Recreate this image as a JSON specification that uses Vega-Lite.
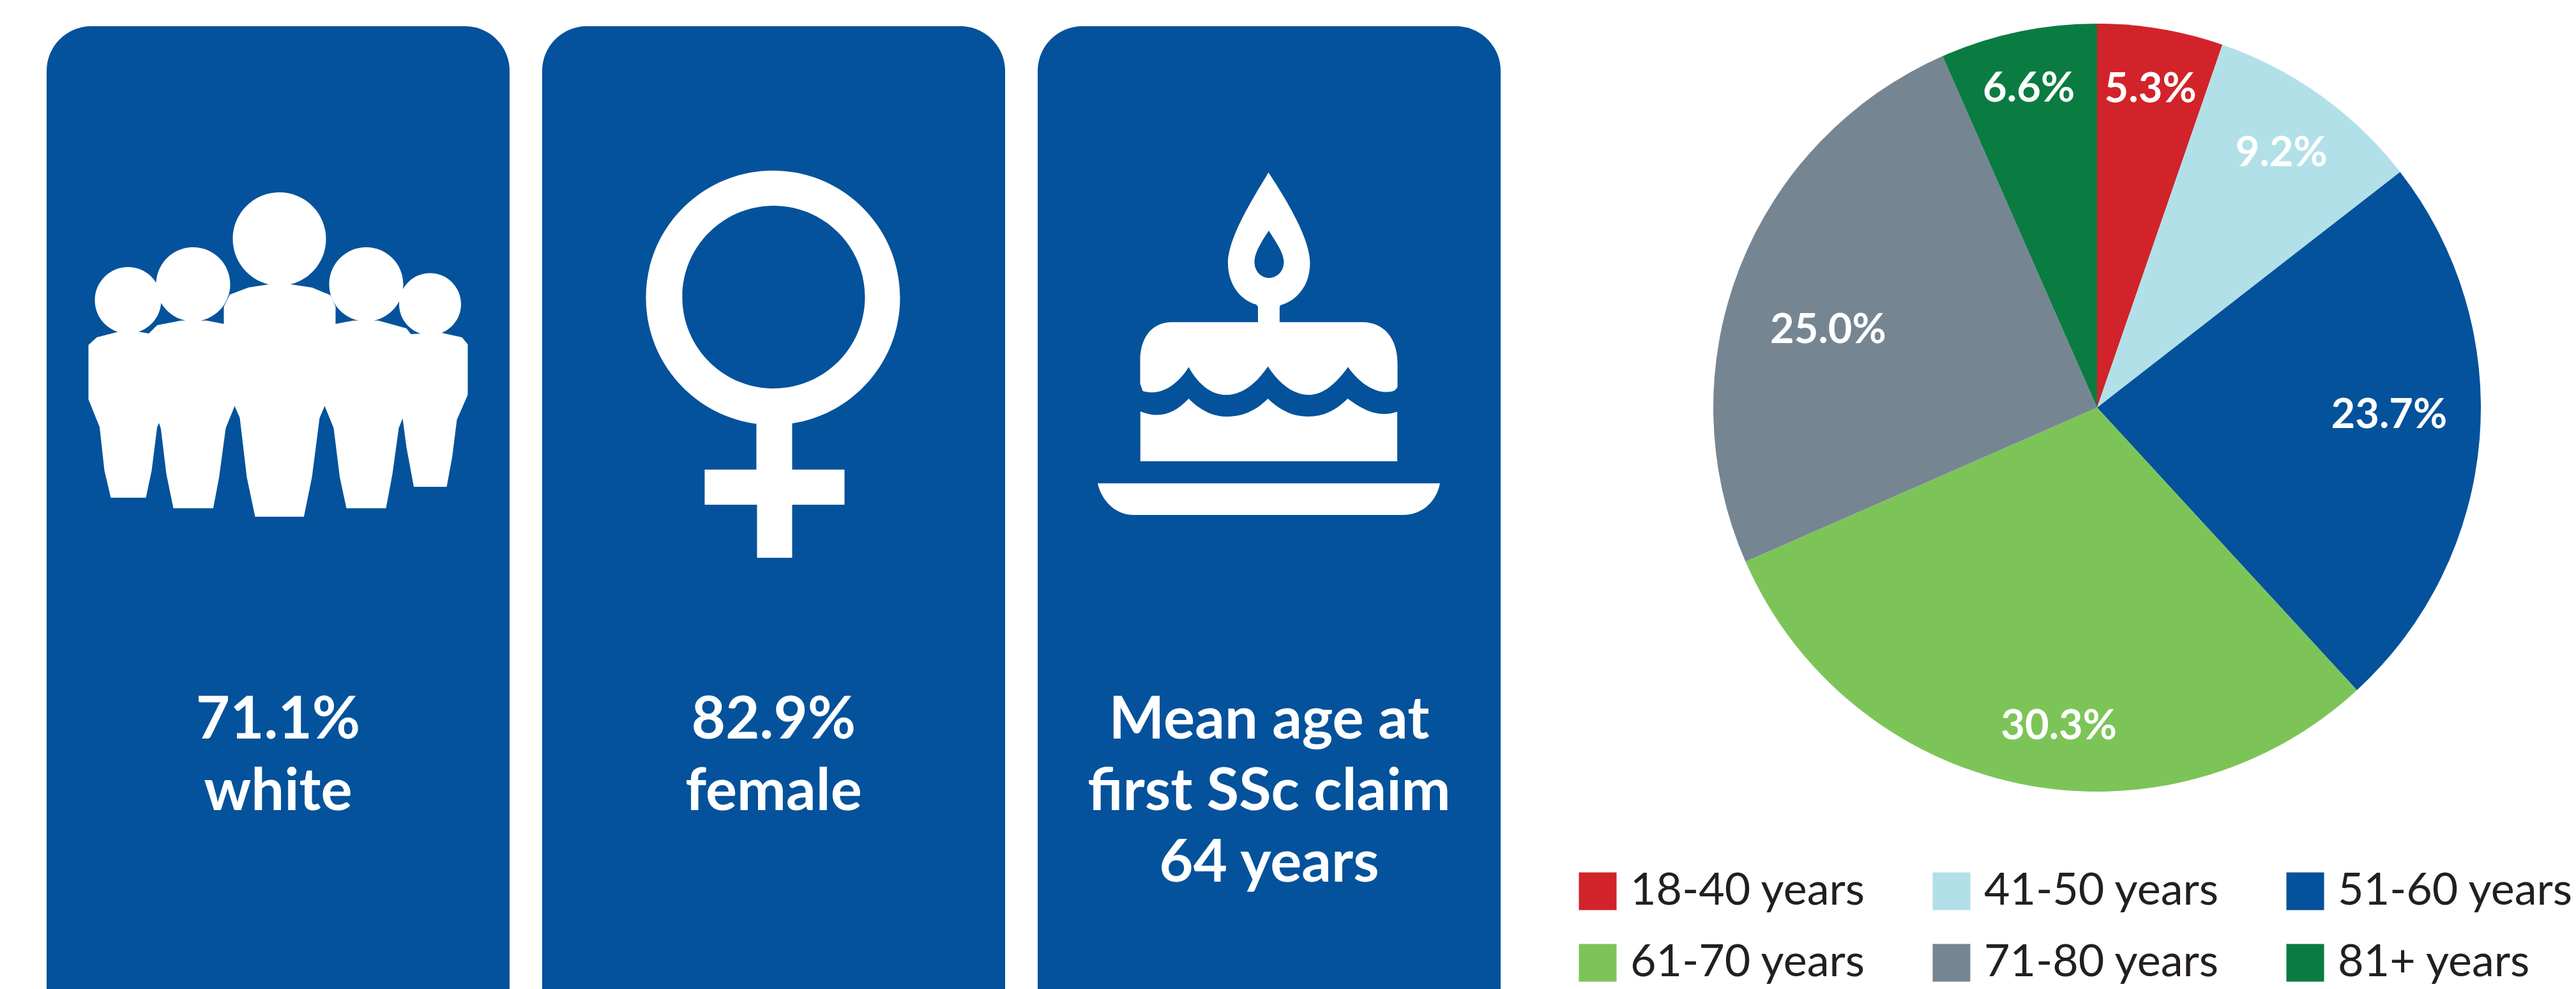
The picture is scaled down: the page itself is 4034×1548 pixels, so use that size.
{"$schema":"https://vega.github.io/schema/vega-lite/v6.json","padding":0,"background":"white","bounds":"flush","spacing":0,"config":{"view":{"stroke":null},"font":"Lato"},
"datasets":{"panels":[{"panel":"white"},{"panel":"female"},{"panel":"age"}],
"lines":[{"panel":"white","line":1,"text":"71.1%"},{"panel":"white","line":2,"text":"white"},{"panel":"female","line":1,"text":"82.9%"},{"panel":"female","line":2,"text":"female"},{"panel":"age","line":1,"text":"Mean age at"},{"panel":"age","line":2,"text":"first SSc claim"},{"panel":"age","line":3,"text":"64 years"}],
"ages":[{"age":"18-40 years","pct":5.3,"ord":1,"label":"5.3%"},{"age":"41-50 years","pct":9.2,"ord":2,"label":"9.2%"},{"age":"51-60 years","pct":23.7,"ord":3,"label":"23.7%"},{"age":"61-70 years","pct":30.3,"ord":4,"label":"30.3%"},{"age":"71-80 years","pct":25.0,"ord":5,"label":"25.0%"},{"age":"81+ years","pct":6.6,"ord":6,"label":"6.6%"}]},
"hconcat":[
{"width":2534,"height":1548,"resolve":{"scale":{"y":"independent"}},
"encoding":{"x":{"field":"panel","type":"nominal","axis":null,"sort":null,"scale":{"type":"band","domain":["white","female","age"],"range":[73,2350],"paddingInner":0.0657,"paddingOuter":0}}},
"layer":[
{"data":{"name":"panels"},"mark":{"type":"rect","fill":"#03529B","cornerRadius":70,"clip":true},"encoding":{"y":{"datum":41,"type":"quantitative","axis":null,"scale":{"domain":[0,1548],"range":[0,1548],"nice":false,"zero":false}},"y2":{"datum":1800}}},
{"data":{"values":[{"panel":"white"}]},"mark":{"type":"point","filled":true,"fill":"white","stroke":null,"strokeWidth":0,"opacity":1,"size":4,"shape":"M -251 19.5 L -284 28 L -297 40 L -297 125 L -279.5 168.5 L -272 236.5 L -262 279 L -207 279 L -198 236.5 L -189.4 168.5 L -186.5 162 L -183.6 171 L -175 242 L -164 295.6 L -101.6 295.6 L -92.4 247 L -82 170 L -68 135.6 L -60 154 L -49 247 L -36 308.7 L 40.4 308.7 L 53 247 L 65 154 L 73 135.6 L 87 170 L 96.6 247 L 107 295.6 L 169 295.6 L 179 242 L 189 170 L 195 155 L 201 200 L 212.5 262 L 264 262 L 272.6 215.6 L 280 157 L 297 118 L 297 39 L 288 28 L 254 20.5 L 208 23 L 201 14 L 157 1.7 L 118 1.7 L 90 7 L 90 -20 L 82 -38 L 53 -50 L 17.6 -55.3 L -12.5 -55.3 L -46.4 -50 L -75.5 -39 L -85 -20 L -85 7 L -112 1.7 L -152 1.7 L -189.4 9 L -202.5 22 L -217 19.5 Z M -71 -126 A 73 73 0 1 0 75 -126 A 73 73 0 1 0 -71 -126 Z M -191 -55 A 58 58 0 1 0 -75 -55 A 58 58 0 1 0 -191 -55 Z M 80 -55 A 58 58 0 1 0 196 -55 A 58 58 0 1 0 80 -55 Z M -287 -30 A 52 52 0 1 0 -183 -30 A 52 52 0 1 0 -287 -30 Z M 189.5 -24 A 48.5 48.5 0 1 0 286.5 -24 A 48.5 48.5 0 1 0 189.5 -24 Z"},"encoding":{"y":{"datum":500,"type":"quantitative","axis":null,"scale":{"domain":[0,1548],"range":[0,1548],"nice":false,"zero":false}}}},
{"data":{"values":[{"panel":"female"}]},"mark":{"type":"point","filled":true,"fill":"white","stroke":null,"strokeWidth":0,"opacity":1,"size":4,"shape":"M -200 -34 A 199 199 0 1 0 198 -34 A 199 199 0 1 0 -200 -34 Z M -143 -35 A 143 143 0 1 1 143 -35 A 143 143 0 1 1 -143 -35 Z M -27 154 L -27 235 L -108 235 L -108 290 L -26 290 L -26 373 L 29 373 L 29 290 L 111 290 L 111 235 L 29 235 L 29 154 Z"},"encoding":{"y":{"datum":500,"type":"quantitative","axis":null,"scale":{"domain":[0,1548],"range":[0,1548],"nice":false,"zero":false}}}},
{"data":{"values":[{"panel":"age"}]},"mark":{"type":"point","filled":true,"fill":"white","stroke":null,"strokeWidth":0,"opacity":1,"size":4,"shape":"M -1 -230 C 20 -198 64 -130 64 -88 C 64 -55 45 -30 18 -22.4 L 16.4 -19.8 L 16.4 4.3 L 146 4.3 C 180 4.3 201 30 201 69 L 201 106 L 197 111 C 175 120 145 105 123.5 74.4 C 105 100 85 118 61.5 118 C 38 118 15 100 -2 73.4 C -20 100 -42 118 -67 118 C -92 118 -112 100 -126 74.4 C -145 105 -172 120 -198 112 L -202 100.5 L -202 64 C -202 30 -185 4.3 -152 4.3 L -17.5 4.3 L -17.5 -19.8 L -20.4 -23.4 C -45 -30 -64.5 -55 -64.5 -88 C -64.5 -130 -20 -198 -1 -230 Z M -0.5 -139 C -10 -125 -23 -105 -23 -90 C -23 -75 -12 -65 -0.5 -65 C 12 -65 23 -75 23 -90 C 23 -105 8 -125 -0.5 -139 Z M -201.7 144 C -175 155 -150 150 -126 124 C -105 145 -85 152 -67 152 C -40 152 -20 142 -2 124 C 20 145 40 152 61.5 152 C 85 152 105 142 123 124 C 145 140 170 155 200.6 144.5 L 200.6 222 L -201.7 222 Z M -268.6 256.4 L 267.5 256.4 C 262 285 240 306 209 306 L -212 306 C -240 306 -262 285 -268.6 256.4 Z"},"encoding":{"y":{"datum":500,"type":"quantitative","axis":null,"scale":{"domain":[0,1548],"range":[0,1548],"nice":false,"zero":false}}}},
{"data":{"name":"lines"},"mark":{"type":"text","font":"Lato","fontWeight":"bold","fontSize":92,"fill":"white","align":"center","baseline":"alphabetic"},"encoding":{"y":{"field":"line","type":"quantitative","axis":null,"scale":{"domain":[1,3],"range":[1156,1380],"nice":false,"zero":false}},"text":{"field":"text"}}}
]},
{"width":1500,"height":1276,"data":{"name":"ages"},
"encoding":{"theta":{"field":"pct","type":"quantitative","stack":true},"order":{"field":"ord","type":"quantitative"}},
"layer":[
{"mark":{"type":"arc","radius":601},"encoding":{"color":{"field":"age","type":"nominal","sort":null,"scale":{"domain":["18-40 years","41-50 years","51-60 years","61-70 years","71-80 years","81+ years"],"range":["#D2232A","#B2E0E8","#03529B","#7DC458","#768592","#0A7C42"]},"legend":{"title":null,"orient":"none","direction":"horizontal","legendX":2467,"legendY":1360,"columns":3,"columnPadding":99,"rowPadding":42,"padding":0,"symbolType":"square","symbolSize":3481,"symbolStrokeWidth":0,"labelFont":"Lato","labelFontSize":70,"labelColor":"#231F20","labelOffset":16,"labelLimit":600}}}},
{"mark":{"type":"text","font":"Lato","fontWeight":"bold","fontSize":65,"fill":"white","radius":{"expr":"datum.pct==23.7?459:datum.pct==25?438:datum.pct==9.2?496:505"},"dx":{"expr":"datum.pct==30.3?44:datum.pct==25?-13:datum.pct==6.6?-3:0"},"dy":{"expr":"datum.pct==30.3?5:datum.pct==25?38:datum.pct==23.7?-26:datum.pct==9.2?5:datum.pct==6.6?-5:0"}},"encoding":{"detail":{"field":"age"},"text":{"field":"label"}}}
]}
]}
